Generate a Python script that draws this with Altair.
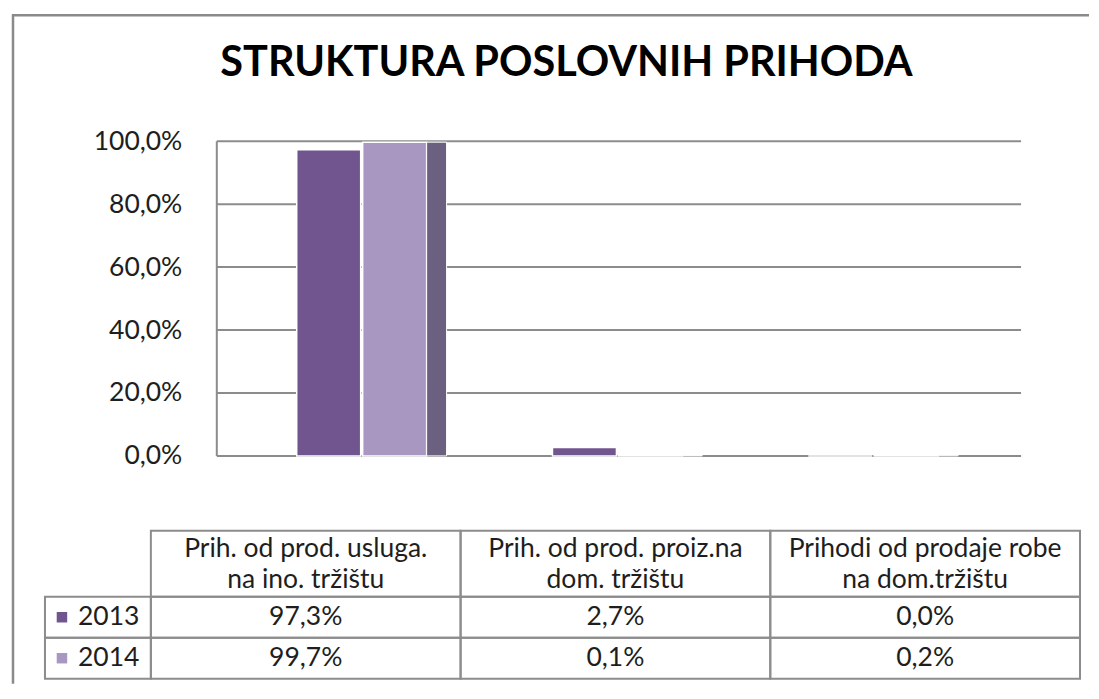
import altair as alt
import pandas as pd

# ---------------- data ----------------
categories = [
    "Prih. od prod. usluga.\nna ino. tržištu",
    "Prih. od prod. proiz.na\ndom. tržištu",
    "Prihodi od prodaje robe\nna dom.tržištu",
]
years = ["2013", "2014"]
values_2013 = [97.3, 2.7, 0.0]
values_2014 = [99.7, 0.1, 0.2]
y_ticks = [0, 20, 40, 60, 80, 100]
title_text = "STRUKTURA POSLOVNIH PRIHODA"

# ---------------- layout / style ----------------
W, H = 1078, 670
FONT = "Lato"
FS = 26.5
TXT = "#1e1e1e"
LINE = "#8c8c8c"
colors = ["#70558f", "#a898c1"]
side_color = "#6b6080"

rows = []
for c, v13, v14 in zip(categories, values_2013, values_2014):
    rows.append({"cat": c, "year": "2013", "value": v13})
    rows.append({"cat": c, "year": "2014", "value": v14})
df = pd.DataFrame(rows)
df14 = df[df["year"] == "2014"]
ticks_df = pd.DataFrame({"t": y_ticks})
one = pd.DataFrame({"k": [0]})
hdr_df = pd.DataFrame({"cat": categories, "row": ["header"] * len(categories)})
leg_df = pd.DataFrame({"year": years, "col": ["legend"] * len(years)})

y_bar = alt.Scale(domain=[0, 100], range=[442, 127], nice=False, zero=True)
x_bar = alt.Scale(domain=categories, range=[222, 990], paddingInner=0.492, paddingOuter=0.246)
x_side = alt.Scale(domain=categories, range=[297, 1065], paddingInner=0.922, paddingOuter=0.461)
x_cols = alt.Scale(domain=categories, range=[139, 1069], paddingInner=0, paddingOuter=0)
y_rows = alt.Scale(domain=years, range=[583, 665], paddingInner=0, paddingOuter=0)
y_hdr = alt.Scale(domain=["header"], range=[517, 583], paddingInner=0, paddingOuter=0)
x_leg = alt.Scale(domain=["legend"], range=[33, 139], paddingInner=0, paddingOuter=0)
color_scale = alt.Scale(domain=years, range=colors)

pct_expr = "replace(format(datum.value, '.1f'), '.', ',') + '%'"

# frame (top and left edges only, as in the reference)
frame_top = alt.Chart(one).mark_rule(color="#8a8a8a", strokeWidth=2.5).encode(
    x=alt.value(0), x2=alt.value(W), y=alt.value(1)
)
frame_left = alt.Chart(one).mark_rule(color="#8a8a8a", strokeWidth=2.5).encode(
    x=alt.value(1), y=alt.value(0), y2=alt.value(H)
)

title = alt.Chart(one).mark_text(
    text=title_text, font=FONT, fontSize=41.5, fontWeight="bold", color="#000000",
    align="center", baseline="middle",
).encode(x=alt.value(555), y=alt.value(50))

grid = alt.Chart(ticks_df).mark_rule(color=LINE, strokeWidth=2).encode(
    y=alt.Y(
        "t:Q", scale=y_bar,
        axis=alt.Axis(
            values=y_ticks, labelExpr=pct_expr, domain=False, ticks=False, tickSize=0,
            grid=False, labelPadding=0, offset=-170, labelFont=FONT, labelFontSize=FS,
            labelColor=TXT, title=None,
        ),
    ),
    x=alt.value(205), x2=alt.value(1010),
)

wall = alt.Chart(one).mark_rule(color=LINE, strokeWidth=2).encode(
    y=alt.Y(datum=0, scale=y_bar, axis=None),
    y2=alt.Y2(datum=100),
    x=alt.value(205),
)

bars = alt.Chart(df).mark_bar(stroke="white", strokeWidth=1.5).encode(
    x=alt.X("cat:N", scale=x_bar, axis=None, sort=categories),
    xOffset=alt.XOffset("year:N", scale=alt.Scale(domain=years, paddingInner=0.03)),
    y=alt.Y("value:Q", scale=y_bar, axis=None),
    color=alt.Color("year:N", scale=color_scale, legend=None),
)

side = alt.Chart(df14).mark_bar(color=side_color, stroke="white", strokeWidth=1).encode(
    x=alt.X("cat:N", scale=x_side, axis=None, sort=categories),
    y=alt.Y("value:Q", scale=y_bar, axis=None),
)

cells = alt.Chart(df).mark_rect(fillOpacity=0, stroke=LINE, strokeWidth=2).encode(
    x=alt.X("cat:N", scale=x_cols, axis=None, sort=categories),
    y=alt.Y("year:N", scale=y_rows, axis=None),
)
hdr_cells = alt.Chart(hdr_df).mark_rect(fillOpacity=0, stroke=LINE, strokeWidth=2).encode(
    x=alt.X("cat:N", scale=x_cols, axis=None, sort=categories),
    y=alt.Y("row:N", scale=y_hdr, axis=None),
)
leg_cells = alt.Chart(leg_df).mark_rect(fillOpacity=0, stroke=LINE, strokeWidth=2).encode(
    x=alt.X("col:N", scale=x_leg, axis=None),
    y=alt.Y("year:N", scale=y_rows, axis=None),
)

val_text = alt.Chart(df).transform_calculate(
    label="replace(format(datum.value, '.1f'), '.', ',') + '%'"
).mark_text(font=FONT, fontSize=FS, color=TXT, align="center", baseline="middle").encode(
    x=alt.X("cat:N", scale=x_cols, axis=None, sort=categories),
    y=alt.Y("year:N", scale=y_rows, axis=None),
    text="label:N",
)

hdr_text = alt.Chart(hdr_df).mark_text(
    font=FONT, fontSize=FS, color=TXT, align="center", baseline="middle",
    lineBreak="\n", lineHeight=31, dy=-15,
).encode(
    x=alt.X("cat:N", scale=x_cols, axis=None, sort=categories),
    y=alt.Y("row:N", scale=y_hdr, axis=None),
    text="cat:N",
)

leg_sq = alt.Chart(leg_df).mark_square(size=110, opacity=1).encode(
    x=alt.X("col:N", scale=alt.Scale(domain=["legend"], range=[50, 50]), axis=None),
    y=alt.Y("year:N", scale=y_rows, axis=None),
    color=alt.Color("year:N", scale=color_scale, legend=None),
)
leg_txt = alt.Chart(leg_df).mark_text(
    font=FONT, fontSize=FS, color=TXT, align="left", baseline="middle"
).encode(
    x=alt.X("col:N", scale=alt.Scale(domain=["legend"], range=[66, 66]), axis=None),
    y=alt.Y("year:N", scale=y_rows, axis=None),
    text="year:N",
)

chart = alt.layer(
    frame_top, frame_left, title, grid, wall, bars, side,
    cells, hdr_cells, leg_cells, val_text, hdr_text, leg_sq, leg_txt,
).resolve_scale(x="independent", y="independent").properties(
    width=W, height=H,
    padding={"left": 2, "top": 4, "right": 0, "bottom": 0},
    background="white",
).configure_view(stroke=None)

chart.save("out.html", embed_options={"renderer": "svg", "actions": False})
